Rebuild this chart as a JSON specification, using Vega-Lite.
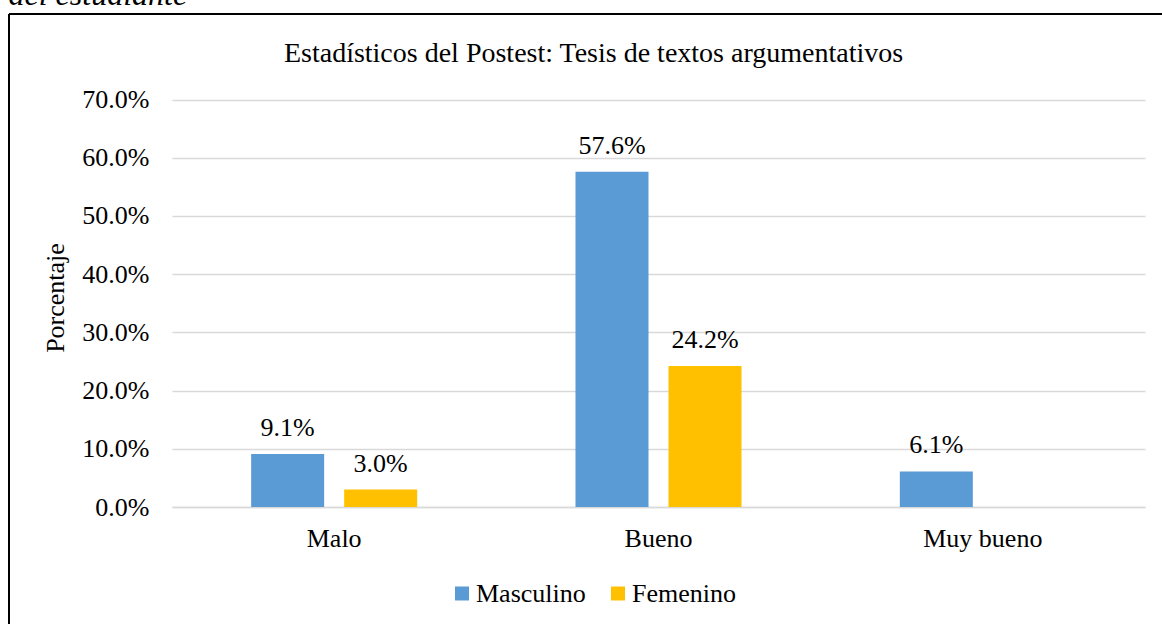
{
  "$schema": "https://vega.github.io/schema/vega-lite/v6.json",
  "width": 1153,
  "height": 610,
  "autosize": {"type": "none"},
  "padding": {"left": 9, "top": 14, "right": 0, "bottom": 0},
  "background": "white",
  "config": {
    "view": {"stroke": "#000000", "strokeWidth": 2, "strokeDash": [1153, 1763, 610, 0]},
    "font": "Liberation Serif",
    "axis": {"labelFont": "Liberation Serif", "titleFont": "Liberation Serif", "labelColor": "#000000", "titleColor": "#000000", "titleFontWeight": "normal"}
  },
  "data": {
    "values": [
      {"categoria": "Malo", "genero": "Masculino", "valor": 0.091},
      {"categoria": "Malo", "genero": "Femenino", "valor": 0.030},
      {"categoria": "Bueno", "genero": "Masculino", "valor": 0.576},
      {"categoria": "Bueno", "genero": "Femenino", "valor": 0.242},
      {"categoria": "Muy bueno", "genero": "Masculino", "valor": 0.061}
    ]
  },
  "encoding": {
    "y": {
      "field": "valor",
      "type": "quantitative",
      "scale": {"domain": [0, 0.7], "range": [493, 85.5]},
      "axis": {
        "title": "Porcentaje",
        "offset": -163,
        "values": [0, 0.1, 0.2, 0.3, 0.4, 0.5, 0.6, 0.7],
        "format": ".1%",
        "domain": false,
        "ticks": false,
        "labelPadding": 23,
        "labelFontSize": 26,
        "labelBaseline": "middle",
        "grid": true,
        "gridColor": "#d9d9d9",
        "gridWidth": 1.3,
        "titleFontSize": 26,
        "titleX": -117,
        "titleY": 283.5,
        "titleAngle": -90,
        "titleAlign": "center",
        "titleBaseline": "middle"
      }
    },
    "xOffset": {
      "field": "genero",
      "type": "nominal",
      "sort": ["Masculino", "Femenino"],
      "scale": {"domain": ["Masculino", "Femenino"], "paddingInner": 0.215, "paddingOuter": 0.851}
    }
  },
  "layer": [
    {
      "mark": {"type": "bar"},
      "encoding": {
        "x": {
          "field": "categoria",
          "type": "nominal",
          "sort": ["Malo", "Bueno", "Muy bueno"],
          "scale": {"domain": ["Malo", "Bueno", "Muy bueno"], "range": [163, 1136], "paddingInner": 0, "paddingOuter": 0},
          "axis": {
            "orient": "bottom",
            "offset": -117,
            "labelAngle": 0,
            "labelFontSize": 26,
            "labelBaseline": "alphabetic",
            "labelPadding": 39.5,
            "ticks": false,
            "domain": true,
            "domainColor": "#d9d9d9",
            "domainWidth": 1.3,
            "grid": false,
            "title": "del estudiante",
            "titleFontSize": 32,
            "titleFontStyle": "italic",
            "titleX": -1,
            "titleY": -503,
            "titleAlign": "left",
            "titleAnchor": "start",
            "titleBaseline": "alphabetic",
            "titleAngle": 0
          }
        },
        "color": {
          "field": "genero",
          "type": "nominal",
          "scale": {"domain": ["Masculino", "Femenino"], "range": ["#5b9bd5", "#ffc000"]},
          "legend": {
            "title": null,
            "orient": "none",
            "legendX": 440,
            "legendY": 566.5,
            "direction": "horizontal",
            "symbolType": "square",
            "symbolSize": 196,
            "symbolStrokeWidth": 0,
            "labelFont": "Liberation Serif",
            "labelFontSize": 26,
            "labelColor": "#000000",
            "labelOffset": 1,
            "columnPadding": 19
          }
        }
      }
    },
    {
      "mark": {"type": "text", "baseline": "alphabetic", "dy": -18, "fontSize": 26, "font": "Liberation Serif", "color": "#000000"},
      "encoding": {
        "x": {
          "field": "categoria",
          "type": "nominal",
          "sort": ["Malo", "Bueno", "Muy bueno"],
          "scale": {"domain": ["Malo", "Bueno", "Muy bueno"], "range": [163, 1136], "paddingInner": 0, "paddingOuter": 0},
          "axis": {
            "orient": "top",
            "labels": false,
            "ticks": false,
            "domain": false,
            "grid": false,
            "title": "Estadísticos del Postest: Tesis de textos argumentativos",
            "titleFontSize": 28,
            "titleX": 584,
            "titleY": 47.7,
            "titleAlign": "center",
            "titleBaseline": "alphabetic",
            "titleAngle": 0
          }
        },
        "text": {"field": "valor", "type": "quantitative", "format": ".1%"}
      }
    }
  ],
  "resolve": {"axis": {"x": "independent"}}
}
